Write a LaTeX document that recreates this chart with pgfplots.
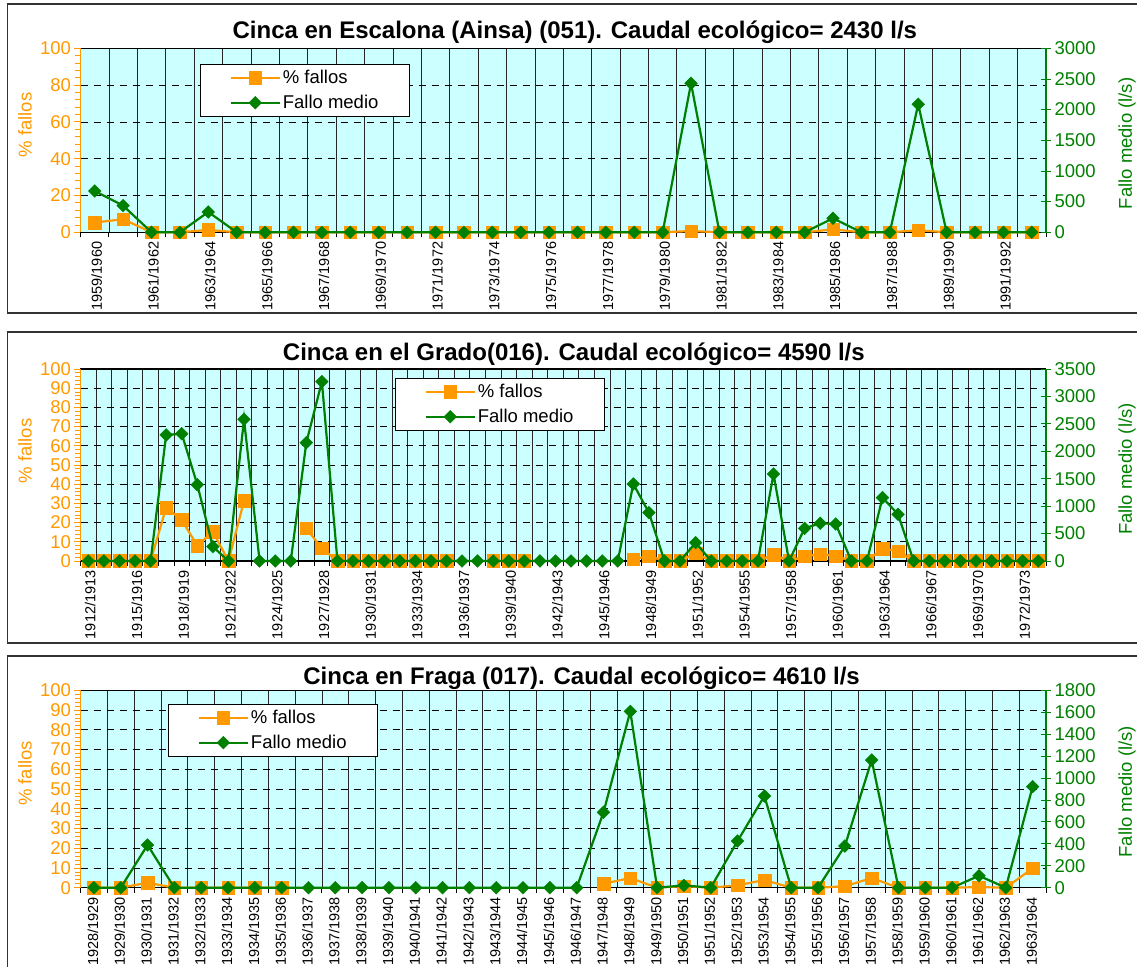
\documentclass[border=0pt]{standalone}
\usepackage{fontspec}
\setmainfont{Liberation Sans}
\usepackage{pgfplots}
\usepackage{pgfplotstable}
\pgfplotsset{compat=1.18}

\definecolor{forange}{HTML}{FF9900}
\definecolor{fgreen}{HTML}{008000}
\definecolor{bgc}{HTML}{CCFFFF}

\newcommand{\ticfont}{\fontsize{18.5pt}{21pt}\selectfont}
\newcommand{\xfont}{\fontsize{14.5pt}{16pt}\selectfont}
\newcommand{\titfont}{\fontsize{24pt}{28pt}\selectfont\bfseries}

% x = category index, pct = % fallos, fm = fallo medio (l/s)
\pgfplotstableread{
x pct fm
0 5.3 673
1 7.1 435
2 0 0
3 0 0
4 1.3 331
5 0 0
6 0 0
7 0 0
8 0 0
9 0 0
10 0 0
11 0 0
12 0 0
13 0 0
14 0 0
15 0 0
16 0 0
17 0 0
18 0 0
19 0 0
20 0 0
21 0.7 2429
22 0 0
23 0 0
24 0 0
25 0 0
26 1.6 228
27 0 0
28 0 0
29 1.1 2087
30 0 0
31 0 0
32 0 0
33 0 0
}\escalona

\pgfplotstableread{
x pct fm
0 0 0
1 0 0
2 0 0
3 0 0
4 0 0
5 27.8 2297
6 21.4 2321
7 8.0 1391
8 15.3 261
9 0 0
10 31.3 2583
11 nan 0
12 nan 0
13 nan 0
14 17.0 2157
15 6.6 3269
16 0 0
17 0 0
18 0 0
19 0 0
20 0 0
21 0 0
22 0 0
23 0 0
24 nan 0
25 nan 0
26 0 0
27 0 0
28 0 0
29 nan 0
30 nan 0
31 nan 0
32 nan 0
33 nan 0
34 nan 0
35 0.9 1404
36 2.6 881
37 0 0
38 0 0
39 4.0 334
40 0 0
41 0 0
42 0 0
43 0 0
44 3.3 1586
45 0 0
46 2.4 596
47 3.5 687
48 2.6 675
49 0 0
50 0 0
51 6.4 1155
52 5.2 851
53 0 0
54 0 0
55 0 0
56 0 0
57 0 0
58 0 0
59 0 0
60 0 0
61 0 0
}\grado

\pgfplotstableread{
x pct fm
0 0 0
1 0 0
2 2.5 389
3 0 0
4 0 0
5 0 0
6 0 0
7 0 0
8 nan 0
9 nan 0
10 nan 0
11 nan 0
12 nan 0
13 nan 0
14 nan 0
15 nan 0
16 nan 0
17 nan 0
18 nan 0
19 2.0 687
20 4.9 1608
21 0 0
22 0.8 21
23 0 0
24 1.2 426
25 3.9 836
26 0 0
27 0 0
28 0.7 380
29 4.9 1164
30 0 0
31 0 0
32 0 0
33 0.3 109
34 0 0
35 9.8 921
}\fraga

\pgfplotsset{
  /pgf/number format/assume math mode=true,
  /pgf/number format/1000 sep={},
  pctplot/.style={forange, line width=2.2pt, mark=square*, mark size=6.3pt,
    mark options={solid, fill=forange, draw=forange, line width=0.4pt}},
  fmplot/.style={fgreen, line width=2.2pt, mark=square*, mark size=4.5pt,
    mark options={solid, rotate=45, fill=fgreen, draw=fgreen, line width=0.4pt}},
  leftax/.style={
    scale only axis, width=965.5pt, clip=false,
    xmin=-0.5, ymin=0, ymax=100,
    unbounded coords=jump,
    axis background/.style={fill=bgc},
    separate axis lines,
    x axis line style={black, line width=1.2pt},
    y axis line style={forange, line width=1.2pt},
    xtick pos=bottom, ytick pos=left,
    tick align=outside,
    major tick length=6pt, minor tick length=5pt,
    major x tick style={draw=none},
    minor x tick style={black, line width=0.8pt},
    ytick style={forange, line width=0.8pt},
    minor y tick num=4,
    xminorgrids, minor x grid style={black!85, line width=0.7pt},
    ymajorgrids, major y grid style={black, line width=0.7pt, dash pattern=on 7pt off 6pt},
    yticklabel style={forange, font=\ticfont},
    xticklabel style={rotate=90, anchor=east, font=\xfont},
    ylabel={\% fallos},
    ylabel style={forange, font=\ticfont, anchor=center},
    title style={anchor=center, font=\titfont},
  },
  rightax/.style={
    scale only axis, width=965.5pt, clip=false,
    xmin=-0.5, ymin=0,
    axis x line=none, axis y line*=right,
    y axis line style={fgreen, line width=1.2pt},
    ytick style={fgreen, line width=0.8pt},
    tick align=center, major tick length=10pt,
    scaled y ticks=false,
    yticklabel style={fgreen, font=\ticfont},
    ylabel={Fallo medio (l/s)},
    ylabel style={fgreen, font=\ticfont, anchor=center},
    legend cell align=left,
    legend image code/.code={
      \draw[mark repeat=2, mark phase=2, ##1] plot coordinates {(0pt,0pt) (24.5pt,0pt) (49pt,0pt)};
    },
    legend style={anchor=north west, draw=black, line width=0.8pt, fill=white,
      font=\ticfont, inner xsep=29pt, inner ysep=4pt, row sep=6pt,
      nodes={inner sep=2pt}},
  },
}

\begin{document}
\begin{tikzpicture}
% panel frames
\draw[black!80, line width=1.5pt] (7.4pt,653pt) rectangle (1160pt,962pt);
\draw[black!80, line width=1.5pt] (7.4pt,323pt) rectangle (1160pt,634pt);
\draw[black!80, line width=1.5pt] (7.4pt,-20pt) rectangle (1160pt,310pt);

% ---- Escalona
\begin{axis}[leftax, at={(80.5pt,733.7pt)}, anchor=south west, height=184pt,
  xmax=33.5, ytick={0,20,...,100},
  xtick={0,2,...,32},
  xticklabels={1959/1960,1961/1962,1963/1964,1965/1966,1967/1968,1969/1970,1971/1972,1973/1974,1975/1976,1977/1978,1979/1980,1981/1982,1983/1984,1985/1986,1987/1988,1989/1990,1991/1992},
  xticklabel style={yshift=-2pt},
  minor xtick={-0.5,0.5,...,33.5},
  ylabel style={at={(axis description cs:-0.0575,0.583)}},
  title={Cinca en Escalona (Ainsa) (051). Caudal ecológico= 2430 l/s},
  title style={at={(axis description cs:0.512,1.056)}}]
\addplot[pctplot] table[x=x, y=pct] {\escalona};
\end{axis}
\begin{axis}[rightax, at={(80.5pt,733.7pt)}, anchor=south west, height=184pt,
  xmax=33.5, ymax=3000, ytick={0,500,...,3000},
  ylabel style={at={(axis description cs:1.0839,0.483)}},
  legend style={at={(axis description cs:0.124,0.915)}}]
\addlegendimage{pctplot}
\addlegendentry{\% fallos}
\addplot[fmplot] table[x=x, y=fm] {\escalona};
\addlegendentry{Fallo medio}
\end{axis}

% ---- Grado
\begin{axis}[leftax, at={(80.5pt,405pt)}, anchor=south west, height=192pt,
  xmax=61.5, ytick={0,10,...,100},
  xtick={0,3,...,60},
  xticklabels={1912/1913,1915/1916,1918/1919,1921/1922,1924/1925,1927/1928,1930/1931,1933/1934,1936/1937,1939/1940,1942/1943,1945/1946,1948/1949,1951/1952,1954/1955,1957/1958,1960/1961,1963/1964,1966/1967,1969/1970,1972/1973},
  xticklabel style={yshift=-2pt},
  minor xtick={-0.5,0.5,...,61.5},
  ylabel style={at={(axis description cs:-0.0575,0.573)}},
  title={Cinca en el Grado(016). Caudal ecológico= 4590 l/s},
  title style={at={(axis description cs:0.511,1.047)}}]
\addplot[pctplot] table[x=x, y=pct] {\grado};
\end{axis}
\begin{axis}[rightax, at={(80.5pt,405pt)}, anchor=south west, height=192pt,
  xmax=61.5, ymax=3500, ytick={0,500,...,3500},
  ylabel style={at={(axis description cs:1.0839,0.479)}},
  legend style={at={(axis description cs:0.326,0.953)}}]
\addlegendimage{pctplot}
\addlegendentry{\% fallos}
\addplot[fmplot] table[x=x, y=fm] {\grado};
\addlegendentry{Fallo medio}
\end{axis}

% ---- Fraga
\begin{axis}[leftax, at={(80.5pt,78.3pt)}, anchor=south west, height=197.4pt,
  xmax=35.5, ytick={0,10,...,100},
  xtick={0,1,...,35},
  xticklabels={1928/1929,1929/1930,1930/1931,1931/1932,1932/1933,1933/1934,1934/1935,1935/1936,1936/1937,1937/1938,1938/1939,1939/1940,1940/1941,1941/1942,1942/1943,1943/1944,1944/1945,1945/1946,1946/1947,1947/1948,1948/1949,1949/1950,1950/1951,1951/1952,1952/1953,1953/1954,1954/1955,1955/1956,1956/1957,1957/1958,1958/1959,1959/1960,1960/1961,1961/1962,1962/1963,1963/1964},
  xticklabel style={yshift=1pt},
  minor xtick={-0.5,0.5,...,35.5},
  ylabel style={at={(axis description cs:-0.0575,0.578)}},
  title={Cinca en Fraga (017). Caudal ecológico= 4610 l/s},
  title style={at={(axis description cs:0.519,1.032)}}]
\addplot[pctplot] table[x=x, y=pct] {\fraga};
\end{axis}
\begin{axis}[rightax, at={(80.5pt,78.3pt)}, anchor=south west, height=197.4pt,
  xmax=35.5, ymax=1800, ytick={0,200,...,1800},
  ylabel style={at={(axis description cs:1.0839,0.486)}},
  legend style={at={(axis description cs:0.091,0.931)}}]
\addlegendimage{pctplot}
\addlegendentry{\% fallos}
\addplot[fmplot] table[x=x, y=fm] {\fraga};
\addlegendentry{Fallo medio}
\end{axis}

\pgfresetboundingbox
\path[use as bounding box] (0pt,0pt) rectangle (1137pt,966pt);
\end{tikzpicture}
\end{document}
